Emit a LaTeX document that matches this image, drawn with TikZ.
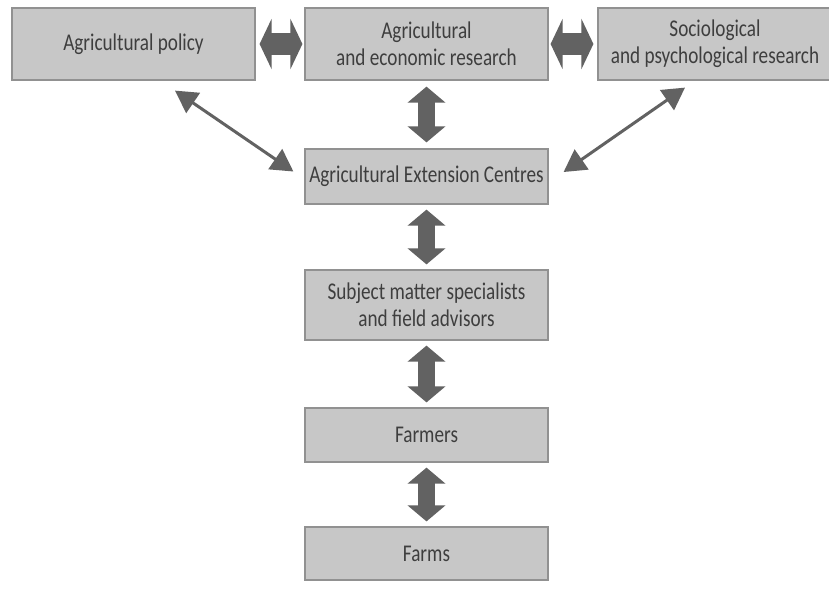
\documentclass[tikz,border=0pt]{standalone}
\usepackage{fontspec}
\setmainfont[FakeStretch=0.80]{Carlito}
\usetikzlibrary{arrows.meta}
\definecolor{boxfill}{RGB}{199,199,199}
\definecolor{boxline}{RGB}{145,145,145}
\definecolor{arrgray}{RGB}{98,98,98}
\definecolor{txtgray}{RGB}{62,62,62}

\tikzset{
  box/.style={draw=boxline,fill=boxfill,line width=1.2pt,minimum width=243pt,
    align=center,text=txtgray,font=\fontsize{24}{27}\selectfont,inner sep=0pt},
  fatarrow/.style={arrgray,line width=17pt,
    {Triangle[width=37pt,length=16pt]}-{Triangle[width=37pt,length=16pt]}},
  widearrow/.style={arrgray,line width=22pt,
    {Triangle[width=50pt,length=12pt]}-{Triangle[width=50pt,length=12pt]}},
  thinarrow/.style={arrgray,line width=3pt,
    {Triangle[width=24pt,length=22pt]}-{Triangle[width=24pt,length=22pt]}}
}

\begin{document}
\begin{tikzpicture}[x=1pt,y=-1pt]
  \useasboundingbox (0,0) rectangle (829,592);
  \fill[white] (0,0) rectangle (829,592);
  \clip (0,0) rectangle (829,592);
  \node[box,minimum height=72pt] (pol) at (133.5,44) {Agricultural policy};
  \node[box,minimum height=72pt] (res) at (426.5,44) {Agricultural\\and economic research};
  \node[box,minimum height=72pt,minimum width=234pt] (soc) at (715,44) {Sociological\\and psychological research};
  \node[box,minimum height=55pt] (aec) at (426.5,176.5) {Agricultural Extension Centres};
  \node[box,minimum height=70pt] (sms) at (426.5,305) {Subject matter specialists\\and field advisors};
  \node[box,minimum height=54pt] (farmers) at (426.5,435) {Farmers};
  \node[box,minimum height=53pt] (farms) at (426.5,553.5) {Farms};
  \draw[widearrow,shorten <=4pt,shorten >=2pt] (pol.east) -- (res.west);
  \draw[widearrow,shorten <=2pt,shorten >=4pt] (res.east) -- (soc.west);
  \draw[fatarrow,shorten <=6pt,shorten >=6pt] (res.south) -- (aec.north);
  \draw[fatarrow,shorten <=5pt,shorten >=5pt] (aec.south) -- (sms.north);
  \draw[fatarrow,shorten <=5pt,shorten >=5pt] (sms.south) -- (farmers.north);
  \draw[fatarrow,shorten <=5pt,shorten >=5pt] (farmers.south) -- (farms.north);
  \draw[thinarrow] ([xshift=41.5pt,yshift=-10pt]pol.south) -- ([xshift=-11pt,yshift=5pt]aec.west);
  \draw[thinarrow] ([xshift=-30pt,yshift=-7pt]soc.south) -- ([xshift=15pt,yshift=4.5pt]aec.east);
\end{tikzpicture}
\end{document}
